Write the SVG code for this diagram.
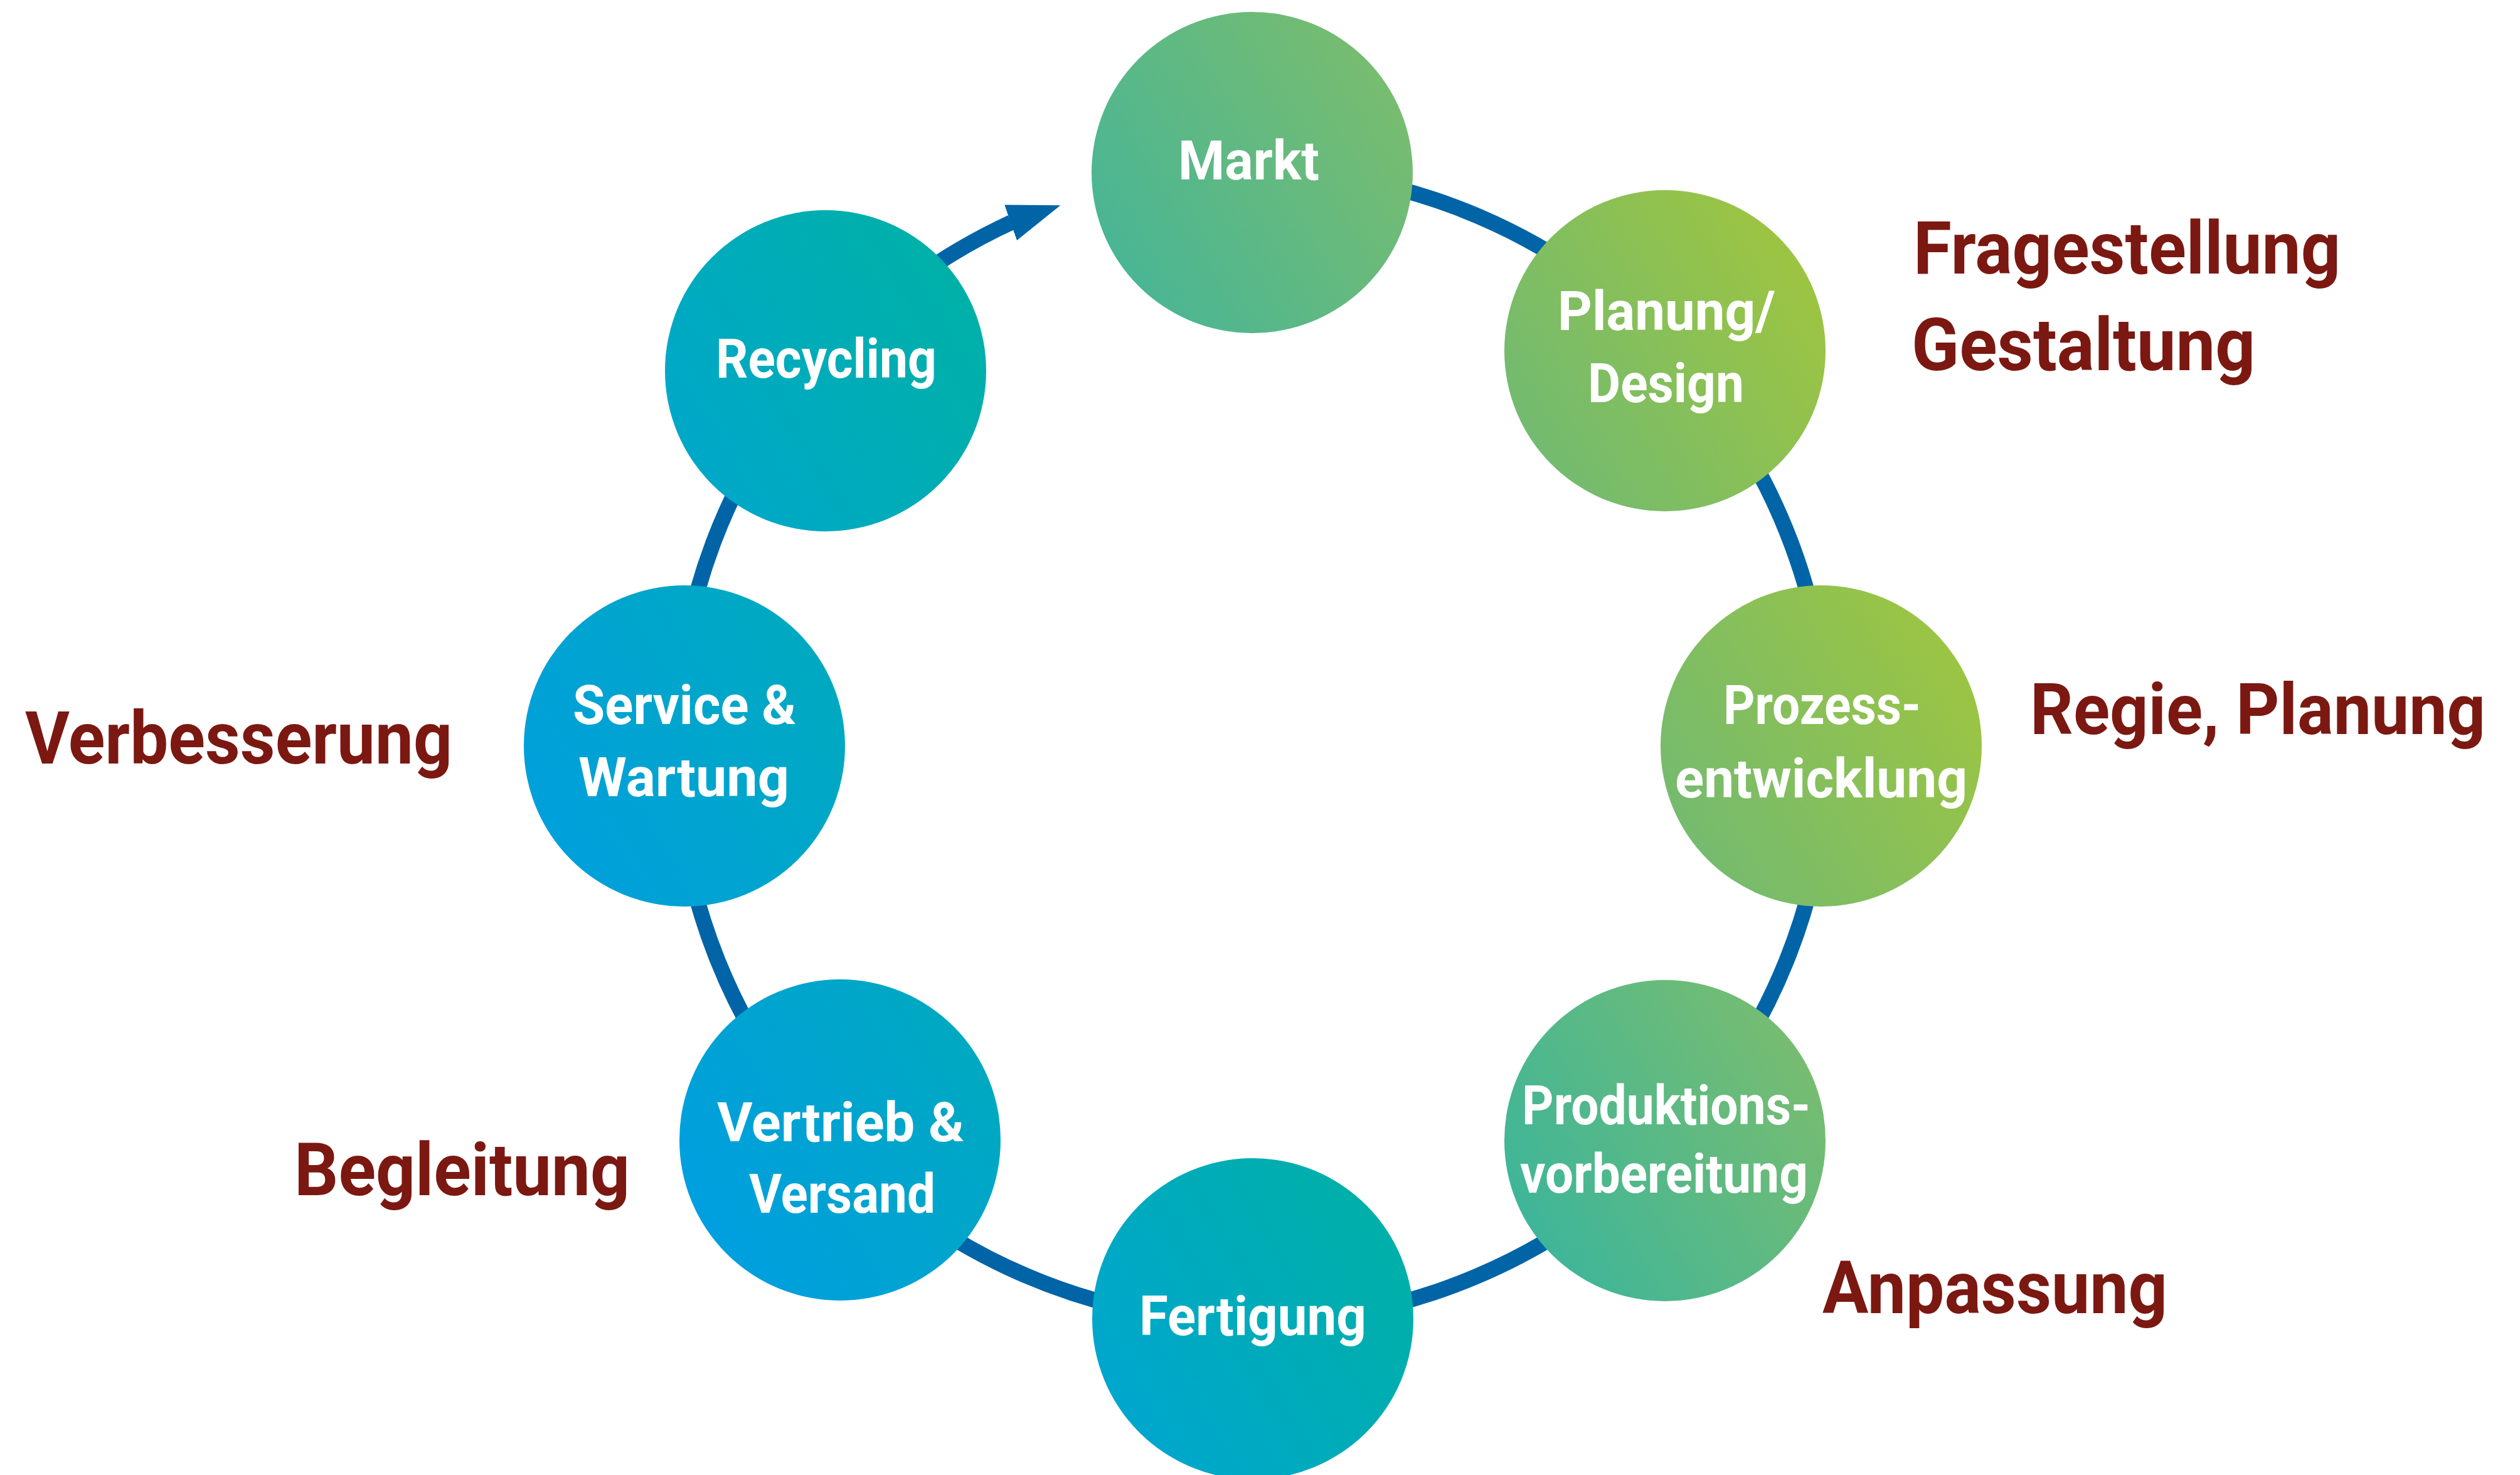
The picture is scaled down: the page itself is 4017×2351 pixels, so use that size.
<svg xmlns="http://www.w3.org/2000/svg" width="4017" height="2351" viewBox="0 0 4017 2351">
<style>
.ring{fill:none;stroke:#0064A7;stroke-width:25}
.node text{font-family:Roboto,"Liberation Sans",sans-serif;font-weight:700;font-size:88px;fill:#ffffff}
.lab{font-family:Roboto,"Liberation Sans",sans-serif;font-weight:700;font-size:117px;fill:#7B1811}
</style>
<defs>
<linearGradient id="gMarkt" x1="0" y1="0.8" x2="1" y2="0.2"><stop offset="0" stop-color="#46B597"/><stop offset="1" stop-color="#7BBD6D"/></linearGradient>
<linearGradient id="gPlan" x1="0" y1="0.8" x2="1" y2="0.2"><stop offset="0" stop-color="#6FBA74"/><stop offset="1" stop-color="#A0C53E"/></linearGradient>
<linearGradient id="gProz" x1="0" y1="0.8" x2="1" y2="0.2"><stop offset="0" stop-color="#72BA72"/><stop offset="1" stop-color="#9EC540"/></linearGradient>
<linearGradient id="gProd" x1="0" y1="0.8" x2="1" y2="0.2"><stop offset="0" stop-color="#3AB59C"/><stop offset="1" stop-color="#7BBD6E"/></linearGradient>
<linearGradient id="gFert" x1="0" y1="0.8" x2="1" y2="0.2"><stop offset="0" stop-color="#00A6D0"/><stop offset="1" stop-color="#00B0A5"/></linearGradient>
<linearGradient id="gVert" x1="0" y1="0.8" x2="1" y2="0.2"><stop offset="0" stop-color="#009EE2"/><stop offset="1" stop-color="#00A9BE"/></linearGradient>
<linearGradient id="gServ" x1="0" y1="0.8" x2="1" y2="0.2"><stop offset="0" stop-color="#009FDE"/><stop offset="1" stop-color="#00AABE"/></linearGradient>
<linearGradient id="gRecy" x1="0" y1="0.8" x2="1" y2="0.2"><stop offset="0" stop-color="#00A7CB"/><stop offset="1" stop-color="#00B1A5"/></linearGradient>
<marker id="arrow" viewBox="0 0 84 60" refX="1" refY="30" markerWidth="84" markerHeight="60" markerUnits="userSpaceOnUse" orient="-19.2">
<path d="M0,0 L84,30 L0,60 z" fill="#0064A7"/>
</marker>
</defs>
<rect x="0" y="0" width="4017" height="2351" fill="#ffffff"/>
<g id="connectors">
<path class="ring" d="M1996,271 A918,918 0 0 1 2659.2,554.2"/>
<path class="ring" d="M2659.2,554.2 A918,918 0 0 1 2914,1189"/>
<path class="ring" d="M2914,1189 A918,918 0 0 1 2659.7,1823.2"/>
<path class="ring" d="M2659.7,1823.2 A918,918 0 0 1 1996,2107"/>
<path class="ring" d="M1996,2107 A918,918 0 0 1 1332.3,1823.2"/>
<path class="ring" d="M1332.3,1823.2 A918,918 0 0 1 1078,1189"/>
<path class="ring" d="M1078,1189 A918,918 0 0 1 1306.3,583.1"/>
<path class="ring" d="M1306.3,583.1 A918,918 0 0 1 1612,354.5" marker-end="url(#arrow)"/>
</g>
<g id="node-markt" class="node">
<circle cx="1996" cy="275" r="256" fill="url(#gMarkt)"/>
<text x="1878" y="286" textLength="225" lengthAdjust="spacingAndGlyphs">Markt</text>
</g>
<g id="node-planung" class="node">
<circle cx="2654" cy="559" r="256" fill="url(#gPlan)"/>
<text x="2483" y="526" textLength="347" lengthAdjust="spacingAndGlyphs">Planung/</text>
<text x="2531" y="641" textLength="249" lengthAdjust="spacingAndGlyphs">Design</text>
</g>
<g id="node-prozess" class="node">
<circle cx="2903" cy="1189" r="256" fill="url(#gProz)"/>
<text x="2747" y="1154" textLength="315" lengthAdjust="spacingAndGlyphs">Prozess-</text>
<text x="2670" y="1271" textLength="466" lengthAdjust="spacingAndGlyphs">entwicklung</text>
</g>
<g id="node-produktion" class="node">
<circle cx="2654" cy="1818" r="256" fill="url(#gProd)"/>
<text x="2426" y="1792" textLength="460" lengthAdjust="spacingAndGlyphs">Produktions-</text>
<text x="2423" y="1901" textLength="459" lengthAdjust="spacingAndGlyphs">vorbereitung</text>
</g>
<g id="node-fertigung" class="node">
<circle cx="1997" cy="2102" r="256" fill="url(#gFert)"/>
<text x="1816" y="2128" textLength="362" lengthAdjust="spacingAndGlyphs">Fertigung</text>
</g>
<g id="node-vertrieb" class="node">
<circle cx="1339" cy="1817" r="256" fill="url(#gVert)"/>
<text x="1143" y="1819" textLength="394" lengthAdjust="spacingAndGlyphs">Vertrieb &amp;</text>
<text x="1194" y="1933" textLength="297" lengthAdjust="spacingAndGlyphs">Versand</text>
</g>
<g id="node-service" class="node">
<circle cx="1091" cy="1189" r="256" fill="url(#gServ)"/>
<text x="913" y="1154" textLength="356" lengthAdjust="spacingAndGlyphs">Service &amp;</text>
<text x="922" y="1269" textLength="336" lengthAdjust="spacingAndGlyphs">Wartung</text>
</g>
<g id="node-recycling" class="node">
<circle cx="1316" cy="591" r="256" fill="url(#gRecy)"/>
<text x="1141" y="602" textLength="352" lengthAdjust="spacingAndGlyphs">Recycling</text>
</g>
<g id="labels">
<text class="lab" x="3050" y="436" textLength="681" lengthAdjust="spacingAndGlyphs">Fragestellung</text>
<text class="lab" x="3047" y="590" textLength="548" lengthAdjust="spacingAndGlyphs">Gestaltung</text>
<text class="lab" x="3962" y="1170" text-anchor="end" textLength="726" lengthAdjust="spacingAndGlyphs" style="font-size:114px">Regie, Planung</text>
<text class="lab" x="40" y="1217" textLength="681" lengthAdjust="spacingAndGlyphs">Verbesserung</text>
<text class="lab" x="469" y="1905" textLength="535" lengthAdjust="spacingAndGlyphs">Begleitung</text>
<text class="lab" x="2905" y="2093" textLength="550" lengthAdjust="spacingAndGlyphs">Anpassung</text>
</g>
</svg>
